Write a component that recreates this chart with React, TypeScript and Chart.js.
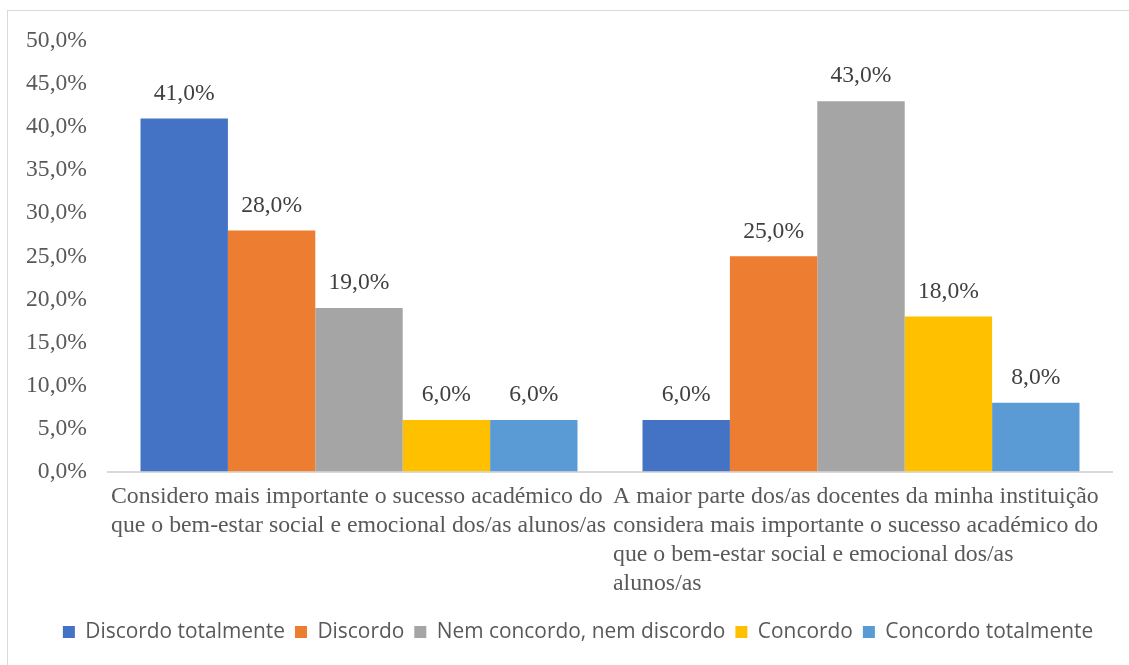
import React, { useEffect, useRef } from "react";
import { Chart, registerables } from "chart.js";

Chart.register(...registerables);

const categories: string[][] = [
  ["Considero mais importante o sucesso académico do", "que o bem-estar social e emocional dos/as alunos/as"],
  [
    "A maior parte dos/as docentes da minha instituição",
    "considera mais importante o sucesso académico do",
    "que o bem-estar social e emocional dos/as",
    "alunos/as",
  ],
];

const seriesNames = [
  "Discordo totalmente",
  "Discordo",
  "Nem concordo, nem discordo",
  "Concordo",
  "Concordo totalmente",
];

const discordoTotalmente = [41, 6];
const discordo = [28, 25];
const nemNem = [19, 43];
const concordo = [6, 18];
const concordoTotalmente = [6, 8];

const seriesColors = ["#4472C4", "#ED7D31", "#A5A5A5", "#FFC000", "#5B9BD5"];

const yMin = 0;
const yMax = 50;
const yStep = 5;

const fmt = (v: number) => v.toFixed(1).replace(".", ",") + "%";

const SERIF = "'Liberation Serif', 'Times New Roman', serif";

const dataLabelPlugin = {
  id: "dataLabels",
  afterDatasetsDraw(chart: any) {
    const ctx = chart.ctx;
    ctx.save();
    ctx.font = `23.6px ${SERIF}`;
    ctx.fillStyle = "#404040";
    ctx.textAlign = "center";
    ctx.textBaseline = "middle";
    chart.data.datasets.forEach((ds: any, di: number) => {
      const meta = chart.getDatasetMeta(di);
      meta.data.forEach((el: any, i: number) => {
        ctx.fillText(fmt(ds.data[i]), el.x, el.y - 25);
      });
    });
    ctx.restore();
  },
};

const legendShiftPlugin = {
  id: "legendShift",
  afterLayout(chart: any) {
    const lg = chart.legend;
    if (lg) {
      lg.left += 22;
      lg.right += 22;
    }
  },
};

export default function App() {
  const ref = useRef<HTMLCanvasElement>(null);

  useEffect(() => {
    if (!ref.current) return;
    const allSeries = [discordoTotalmente, discordo, nemNem, concordo, concordoTotalmente];
    const chart = new Chart(ref.current, {
      type: "bar",
      data: {
        labels: categories as any,
        datasets: allSeries.map((d, i) => ({
          label: seriesNames[i],
          data: d,
          backgroundColor: seriesColors[i],
          borderWidth: 0,
          categoryPercentage: 0.8705,
          barPercentage: 1,
        })),
      },
      options: {
        responsive: false,
        animation: false,
        layout: { padding: { top: 41, right: 17, bottom: 12.5, left: 0 } },
        plugins: {
          legend: {
            position: "bottom",
            labels: {
              boxWidth: 12,
              boxHeight: 12,
              padding: 10,
              color: "#595959",
              font: { family: "'Open Sans', sans-serif", size: 20.9 },
            },
          },
          tooltip: { enabled: false },
        },
        scales: {
          x: {
            grid: { display: false, drawTicks: false },
            border: { display: true, color: "#d9d9d9", width: 2 },
            ticks: {
              autoSkip: false,
              maxRotation: 0,
              minRotation: 0,
              align: "start",
              labelOffset: -248,
              padding: 11,
              color: "#595959",
              font: { family: SERIF, size: 23.8, lineHeight: 1.22 },
            },
            afterFit: (scale: any) => {
              scale.height = 140;
              scale.paddingLeft = 0;
              scale.paddingRight = 0;
            },
          },
          y: {
            min: yMin,
            max: yMax,
            grid: { display: false, drawTicks: false },
            border: { display: false },
            ticks: {
              stepSize: yStep,
              padding: 21,
              color: "#595959",
              font: { family: SERIF, size: 23.6 },
              callback: (v: any) => fmt(Number(v)),
            },
            afterFit: (scale: any) => {
              scale.width = 108;
            },
          },
        },
      },
      plugins: [dataLabelPlugin, legendShiftPlugin],
    });
    return () => chart.destroy();
  }, []);

  return (
    <div style={{ position: "fixed", left: 0, top: 0, width: 1129, height: 665, overflow: "hidden", background: "#fff" }}>
      <div
        style={{
          position: "absolute",
          left: 7,
          top: 10,
          width: 1140,
          height: 680,
          border: "1px solid #d9d9d9",
          boxSizing: "border-box",
        }}
      />
      <canvas ref={ref} width={1129} height={665} style={{ position: "absolute", left: 0, top: 0 }} />
    </div>
  );
}
